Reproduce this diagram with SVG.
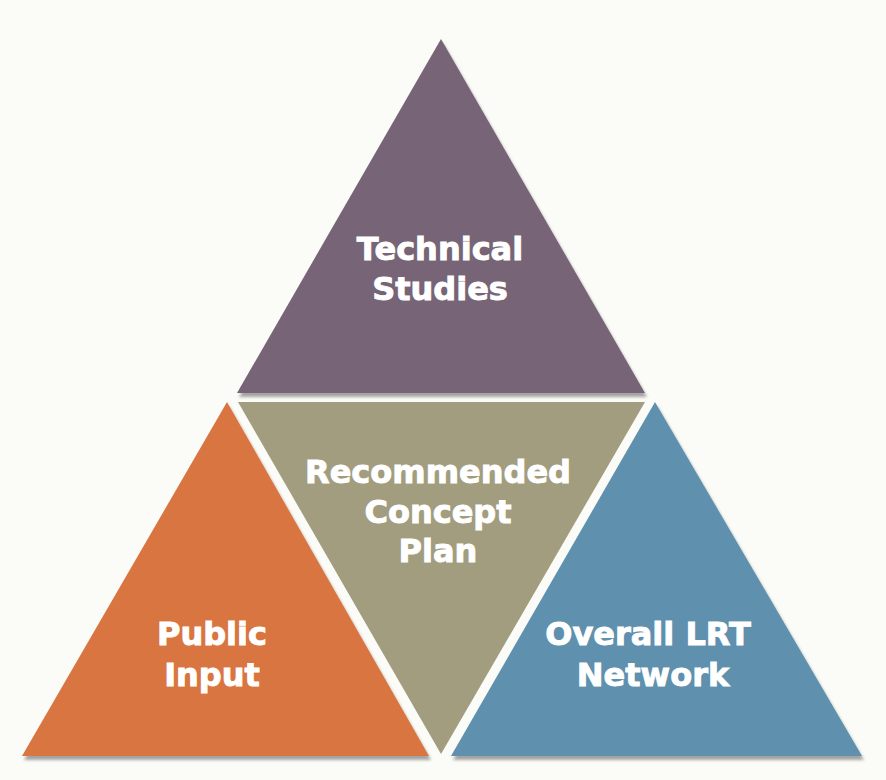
<svg xmlns="http://www.w3.org/2000/svg" width="886" height="780" viewBox="0 0 886 780">
<style>
.lbl{font-family:"DejaVu Sans","Liberation Sans",sans-serif;font-weight:bold;font-size:32px;fill:#ffffff;stroke:#ffffff;stroke-width:0.9;text-anchor:middle}
</style>
<defs>
<filter id="sh" x="-10%" y="-10%" width="120%" height="120%">
<feDropShadow dx="2" dy="4" stdDeviation="1.5" flood-color="#000" flood-opacity="0.35"/>
</filter>
</defs>
<rect width="886" height="780" fill="#fbfbf8"/>
<g id="technical-studies">
<polygon points="441,39 237,393 645,393" fill="#776577" filter="url(#sh)"/>
<text class="lbl" x="440" y="260">Technical</text>
<text class="lbl" x="440" y="300">Studies</text>
</g>
<g id="public-input">
<polygon points="227,402 22,756 429,756" fill="#d97541" filter="url(#sh)"/>
<text class="lbl" x="212" y="645">Public</text>
<text class="lbl" x="212" y="686">Input</text>
</g>
<g id="overall-lrt-network">
<polygon points="655,402 451,756 862,756" fill="#5f90ad" filter="url(#sh)"/>
<text class="lbl" x="648" y="645">Overall LRT</text>
<text class="lbl" x="653" y="686">Network</text>
</g>
<g id="recommended-concept-plan">
<polygon points="238,402 645,402 441,754" fill="#a29d7f"/>
<text class="lbl" x="438" y="483">Recommended</text>
<text class="lbl" x="438" y="523">Concept</text>
<text class="lbl" x="438" y="562">Plan</text>
</g>
<g id="connectors"/>
</svg>
